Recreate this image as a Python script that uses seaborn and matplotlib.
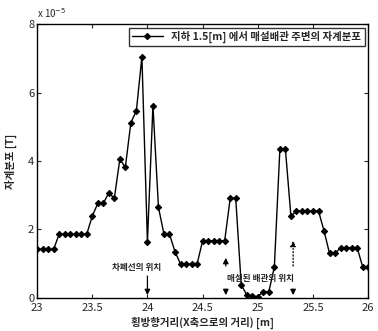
import numpy as np
import pandas as pd
import seaborn as sns
import matplotlib.pyplot as plt

# horizontal distance [m] and magnetic field [x 1e-5 T]
dist = [23.00, 23.05, 23.10, 23.15, 23.20, 23.25, 23.30, 23.35, 23.40, 23.45,
        23.50, 23.55, 23.60, 23.65, 23.70, 23.75, 23.80, 23.85, 23.90, 23.95,
        24.00, 24.05, 24.10, 24.15, 24.20, 24.25, 24.30, 24.35, 24.40, 24.45,
        24.50, 24.55, 24.60, 24.65, 24.70, 24.75, 24.80, 24.85, 24.90, 24.95,
        25.00, 25.05, 25.10, 25.15, 25.20, 25.25, 25.30, 25.35, 25.40, 25.45,
        25.50, 25.55, 25.60, 25.65, 25.70, 25.75, 25.80, 25.85, 25.90, 25.95,
        26.00]
field = [1.42, 1.42, 1.42, 1.42, 1.86, 1.86, 1.86, 1.86, 1.86, 1.86,
         2.39, 2.76, 2.76, 3.07, 2.91, 4.05, 3.82, 5.12, 5.47, 7.05,
         1.64, 5.62, 2.65, 1.86, 1.86, 1.35, 0.99, 0.99, 0.99, 0.99,
         1.67, 1.67, 1.67, 1.67, 1.67, 2.91, 2.91, 0.38, 0.09, 0.05,
         0.04, 0.18, 0.18, 0.90, 4.35, 4.35, 2.39, 2.54, 2.54, 2.54,
         2.54, 2.54, 1.96, 1.30, 1.30, 1.47, 1.47, 1.47, 1.47, 0.91,
         0.91]

xticks = [23, 23.5, 24, 24.5, 25, 25.5, 26]
xticklabels = ['23', '23.5', '24', '24.5', '25', '25.5', '26']
yticks = [0, 2, 4, 6, 8]

legend_label = '지하 1.5[m] 에서 매설배관 주변의 자계분포'

df = pd.DataFrame({'dist': dist, 'field': field})

sns.set_style('ticks')
plt.rcParams['font.family'] = ['Noto Sans CJK KR', 'DejaVu Sans']
plt.rcParams['axes.unicode_minus'] = False

fig = plt.figure(figsize=(3.78, 3.31), dpi=100)
ax = fig.add_axes([0.098, 0.1, 0.876, 0.827])

sns.lineplot(data=df, x='dist', y='field', ax=ax, color='black', linewidth=1.0,
             marker='D', markersize=3.2, markeredgecolor='black',
             markerfacecolor='black', label=legend_label)

ax.set_xlim(23, 26)
ax.set_ylim(0, 8)
ax.set_xticks(xticks)
ax.set_xticklabels(xticklabels)
ax.set_yticks(yticks)
ax.tick_params(direction='in', top=True, right=True, length=3, width=0.8,
               labelsize=8, pad=2)
ax.tick_params(axis='x', pad=4)
for s in ax.spines.values():
    s.set_linewidth(1.0)
    s.set_color('black')

ax.set_xlabel('횡방향거리(X축으로의 거리) [m]', fontsize=7.5, fontweight='bold', labelpad=2)
ax.set_ylabel('자계분포 [T]', fontsize=7.5, fontweight='bold', labelpad=8)
ax.text(0.0, 1.015, 'x 10$^{-5}$', transform=ax.transAxes, fontsize=7,
        ha='left', va='bottom')

leg = ax.legend(loc='upper right', frameon=True, fancybox=False,
                borderpad=0.3, handlelength=3.0, borderaxespad=0.35,
                prop={'weight': 'bold', 'size': 7.5})
leg.get_frame().set_edgecolor('black')
leg.get_frame().set_linewidth(1.0)

arrow = dict(arrowstyle='-|>', color='black', lw=0.9, mutation_scale=8)

# shield line location
ax.text(23.9, 0.9, '차폐선의 위치', fontsize=6.2, fontweight='bold', ha='center', va='center')
ax.annotate('', xy=(24.0, 0.0), xytext=(24.0, 0.72), arrowprops=arrow)

# buried pipe location
ax.text(25.02, 0.58, '매설된 배관의 위치', fontsize=6.2, fontweight='bold', ha='center', va='center')
ax.annotate('', xy=(24.71, 1.25), xytext=(24.71, 0.85), arrowprops=arrow)
ax.annotate('', xy=(24.71, 0.0), xytext=(24.71, 0.33), arrowprops=arrow)
ax.annotate('', xy=(25.32, 1.75), xytext=(25.32, 0.85),
            arrowprops=dict(arrow, linestyle=':'))
ax.annotate('', xy=(25.32, 0.0), xytext=(25.32, 0.33), arrowprops=arrow)

fig.savefig('out.png', dpi=100)
